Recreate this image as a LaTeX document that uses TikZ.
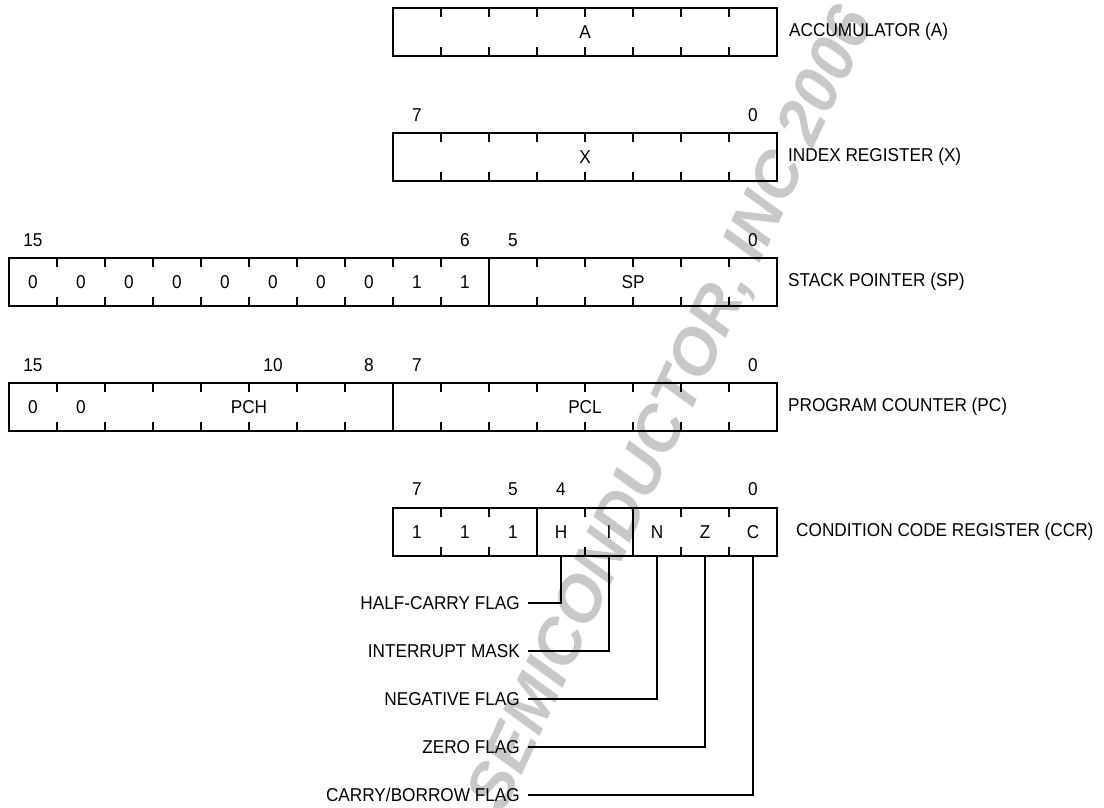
\documentclass[tikz,border=0pt]{standalone}
\usepackage{fontspec}
\setmainfont{Liberation Sans}[FakeStretch=0.925]
\newfontfamily\wmfont{Liberation Sans}
\definecolor{wm}{RGB}{200,200,200}
\begin{document}
\begin{tikzpicture}[x=1pt,y=-1pt,
  txt/.style={font=\fontsize{18.6}{20}\selectfont, inner sep=0pt},
  regbox/.style={draw, line width=1.3pt, inner sep=0pt, minimum height=48pt},
  tick/.style={line width=1.1pt},
  conn/.style={line width=1.2pt}]
\useasboundingbox (0,0) rectangle (1104,807);
\clip (0,0) rectangle (1104,807);
% watermark
\node[wm, rotate=65, inner sep=0pt, font=\wmfont\fontsize{64}{70}\selectfont\bfseries\itshape] (wmark) at (673,410) {SEMICONDUCTOR, INC 2006};

% registers
\node[regbox, minimum width=384pt] (A) at (585,32) {};
\node[regbox, minimum width=384pt] (X) at (585,157) {};
\node[regbox, minimum width=768pt] (SP) at (393,282) {};
\node[regbox, minimum width=768pt] (PC) at (393,407) {};
\node[regbox, minimum width=384pt] (CCR) at (585,532) {};

% ticks
\foreach \k in {1,...,7} {
  \draw[tick] (393+48*\k,8) -- ++(0,9);
  \draw[tick] (393+48*\k,56) -- ++(0,-9);
  \draw[tick] (393+48*\k,133) -- ++(0,9);
  \draw[tick] (393+48*\k,181) -- ++(0,-9);
}
\foreach \k in {1,...,9,11,12,13,14,15} {
  \draw[tick] (9+48*\k,258) -- ++(0,9);
  \draw[tick] (9+48*\k,306) -- ++(0,-9);
}
\foreach \k in {1,...,7,9,10,11,12,13,14,15} {
  \draw[tick] (9+48*\k,383) -- ++(0,9);
  \draw[tick] (9+48*\k,431) -- ++(0,-9);
}
\foreach \k in {1,2,4,6,7} {
  \draw[tick] (393+48*\k,508) -- ++(0,9);
  \draw[tick] (393+48*\k,556) -- ++(0,-9);
}
% full dividers
\draw[line width=1.3pt] (489,258) -- (489,306);
\draw[line width=1.3pt] (393,383) -- (393,431);
\draw[line width=1.3pt] (537,508) -- (537,556);
\draw[line width=1.3pt] (633,508) -- (633,556);

% contents
\node[txt] (tA) at (585,32) {A};
\node[txt] (tX) at (585,157) {X};
\foreach \k in {0,...,7} { \node[txt] (s\k) at (33+48*\k,282) {0}; }
\node[txt] (s8) at (417,282) {1};
\node[txt] (s9) at (465,282) {1};
\node[txt] (tSP) at (633,282) {SP};
\node[txt] (p0) at (33,407) {0};
\node[txt] (p1) at (81,407) {0};
\node[txt] (tPCH) at (249,407) {PCH};
\node[txt] (tPCL) at (585,407) {PCL};
\node[txt] (c7) at (417,532) {1};
\node[txt] (c6) at (465,532) {1};
\node[txt] (c5) at (513,532) {1};
\node[txt] (H) at (561,532) {H};
\node[txt] (I) at (609,532) {I};
\node[txt] (N) at (657,532) {N};
\node[txt] (Z) at (705,532) {Z};
\node[txt] (C) at (753,532) {C};

% bit numbers
\node[txt] (bx7) at (417,115) {7};
\node[txt] (bx0) at (753,115) {0};
\node[txt] (bs15) at (33,240.5) {15};
\node[txt] (bs6) at (465,240.5) {6};
\node[txt] (bs5) at (513,240.5) {5};
\node[txt] (bs0) at (753,240.5) {0};
\node[txt] (bp15) at (33,365.5) {15};
\node[txt] (bp10) at (273,365.5) {10};
\node[txt] (bp8) at (369,365.5) {8};
\node[txt] (bp7) at (417,365.5) {7};
\node[txt] (bp0) at (753,365.5) {0};
\node[txt] (bc7) at (417,489.5) {7};
\node[txt] (bc5) at (513,489.5) {5};
\node[txt] (bc4) at (561,489.5) {4};
\node[txt] (bc0) at (753,489.5) {0};

% register names
\node[txt, anchor=west] (nA) at (789,32) {ACCUMULATOR (A)};
\node[txt, anchor=west] (nX) at (788,157) {INDEX REGISTER (X)};
\node[txt, anchor=west] (nSP) at (788,282) {STACK POINTER (SP)};
\node[txt, anchor=west] (nPC) at (788,407) {PROGRAM COUNTER (PC)};
\node[txt, anchor=west] (nCCR) at (796,532) {CONDITION CODE REGISTER (CCR)};

% flag labels
\node[txt, anchor=east] (fH) at (520,603) {HALF-CARRY FLAG};
\node[txt, anchor=east] (fI) at (520,651) {INTERRUPT MASK};
\node[txt, anchor=east] (fN) at (520,699) {NEGATIVE FLAG};
\node[txt, anchor=east] (fZ) at (520,747) {ZERO FLAG};
\node[txt, anchor=east] (fC) at (520,795) {CARRY/BORROW FLAG};

\draw[conn] ([xshift=8pt]fH.east) -| (H |- CCR.south);
\draw[conn] ([xshift=8pt]fI.east) -| (I |- CCR.south);
\draw[conn] ([xshift=8pt]fN.east) -| (N |- CCR.south);
\draw[conn] ([xshift=8pt]fZ.east) -| (Z |- CCR.south);
\draw[conn] ([xshift=8pt]fC.east) -| (C |- CCR.south);
\end{tikzpicture}
\end{document}
